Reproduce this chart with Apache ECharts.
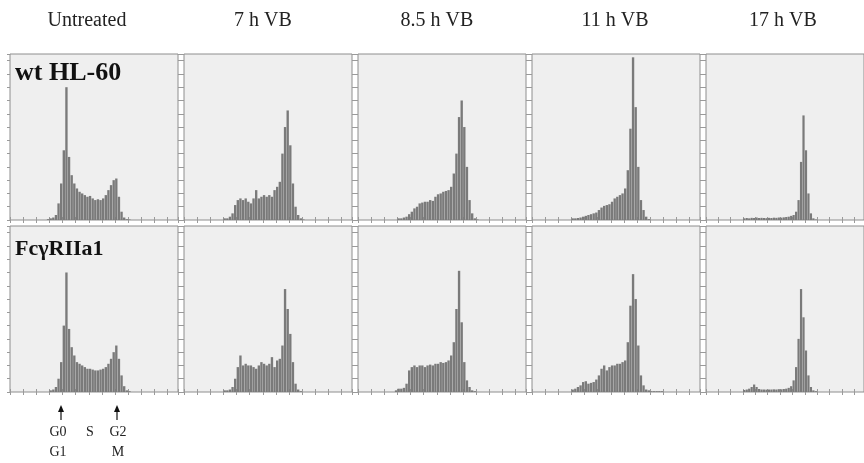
<!DOCTYPE html>
<html><head><meta charset="utf-8">
<script src="https://cdn.jsdelivr.net/npm/echarts@6/dist/echarts.min.js"></script>
<style>html,body{margin:0;padding:0;background:#fff}#c{width:864px;height:463px}</style>
</head><body><div id="c"></div>
<script>
// ---- data (DNA content histograms, % of panel height, starting at channel bin 14 of 64) ----
const columnTitles = ['Untreated', '7 h VB', '8.5 h VB', '11 h VB', '17 h VB'];
const rowLabels = ['wt HL-60', 'FcγRIIa1'];
const binCount = 64;
const firstBin = 14;

const wtUntreated = [0.5,1,1.5,3,10,22,42,80,38,27,22,19,17,16,15,14,14.5,13,12,12.5,12,13,15,18,21,24,25,14,5,1.5,0.5,0.3];
const wt7h        = [0,1,1,2,4,9,12,13,12,13,11,10,13,18,13,14,15,14,15,14,18,20,23,40,56,66,45,22,8,3,1,0.3];
const wt8_5h      = [0,1,1,1.5,2,3.5,5,7,8,10,10.5,11,11,12,11.5,14,15.5,16,17,17.5,18,20,28,40,62,72,56,32,12,4,1,0.3];
const wt11h       = [0,1,1,1.2,1.5,2,2.5,3,3.5,4,4.5,6,7.5,8.5,9,9.5,11,13,14,15,16,19,30,55,98,68,32,12,6,2,0.5];
const wt17h       = [0,1,1.2,1,1.3,1.2,1.5,1.2,1.3,1.2,1.1,1.3,1.2,1.4,1.3,1.5,1.4,1.6,1.8,2,2.5,3,5,12,35,63,42,16,4,1,0.3];

const fcUntreated = [0,1,1.5,3,8,18,40,72,38,27,22,18,17,16,15,14,14,13.5,13,13,13.5,14,15,17,20,24,28,20,10,3.5,1,0.5];
const fc7h        = [0,1,1,1.5,3,8,15,22,16,17,16,16,15,14,16,18,17,16,17,21,15,19,20,28,62,50,35,18,5,1.5,0.5];
const fc8_5h      = [1,2,2,2.5,5,13,15,16,15,16,16,15,16,16.5,16,17,17,18,17.5,18,19,22,30,50,73,42,18,7,3,1,0.5];
const fc11h       = [0,1.5,2,3,4,6,6.5,5,5.5,6,7.5,10,14,16,13,15,16,16,17,17,18,19,30,52,71,56,28,10,4,1.5,1,0.5,0.5,0.5,0.5,0.5];
const fc17h       = [0,1.2,1.5,2,3,4.5,3,1.8,1.5,1.5,1.4,1.5,1.5,1.6,1.5,1.7,1.6,1.8,2,2.5,3.5,7,15,32,62,45,25,10,3,1,0.5];

const panels = [[wtUntreated, wt7h, wt8_5h, wt11h, wt17h], [fcUntreated, fc7h, fc8_5h, fc11h, fc17h]];
const phaseTop = ['G0', 'S', 'G2'];
const phaseBottom = ['G1', '', 'M'];

// ---- layout ----
const colLeft = [10, 184, 358, 532, 706];
const rowTop = [54, 226];
const panelW = 168, panelH = 166;
const categories = Array.from({length: binCount}, (_, i) => i);

function fullHistogram(part) {
  const arr = new Array(binCount).fill(0);
  part.forEach((v, i) => { arr[firstBin + i] = v; });
  return arr;
}

const grid = [], xAxis = [], yAxis = [], series = [];
const tickStyle = {show: true, length: 3, lineStyle: {color: '#9a9a9a', width: 1}};
for (let r = 0; r < 2; r++) {
  for (let c = 0; c < 5; c++) {
    const g = r * 5 + c;
    grid.push({left: colLeft[c], top: rowTop[r], width: panelW, height: panelH, show: true,
      backgroundColor: '#efefef', borderColor: '#8e8e8e', borderWidth: 1});
    ['bottom', 'top'].forEach(pos => xAxis.push({type: 'category', gridIndex: g, position: pos, data: categories,
      boundaryGap: true, axisLine: {show: false}, axisLabel: {show: false},
      axisTick: Object.assign({interval: 4, alignWithLabel: false}, tickStyle), splitLine: {show: false}}));
    ['left', 'right'].forEach(pos => yAxis.push({type: 'value', gridIndex: g, position: pos, min: 0, max: 100, interval: 8,
      axisLine: {show: false}, axisLabel: {show: false}, axisTick: tickStyle, splitLine: {show: false}}));
    series.push({type: 'bar', xAxisIndex: 2 * g, yAxisIndex: 2 * g, data: fullHistogram(panels[r][c]),
      barCategoryGap: '10%', itemStyle: {color: '#7a7a7a'}, silent: true, animation: false});
  }
}

const serif = '"Liberation Serif", "DejaVu Serif", serif';
const graphic = [];
const titleX = [87, 263, 437, 615, 783];
columnTitles.forEach((t, i) => graphic.push({type: 'text', x: titleX[i], y: 21,
  style: {text: t, font: '20px ' + serif, fill: '#222', textAlign: 'center', textVerticalAlign: 'middle'}}));
graphic.push({type: 'text', x: 15, y: 73, z: 10, style: {text: rowLabels[0], font: 'bold 26px ' + serif, fill: '#111', textAlign: 'left', textVerticalAlign: 'middle'}});
graphic.push({type: 'text', x: 15, y: 249, z: 10, style: {text: rowLabels[1], font: 'bold 22px ' + serif, fill: '#111', textAlign: 'left', textVerticalAlign: 'middle'}});
// phase annotations
const arrowX = [61, 117];
arrowX.forEach(x => {
  graphic.push({type: 'line', shape: {x1: x, y1: 420, x2: x, y2: 410}, style: {stroke: '#111', lineWidth: 1.2}});
  graphic.push({type: 'polygon', shape: {points: [[x, 405], [x - 3, 412], [x + 3, 412]]}, style: {fill: '#111'}});
});
const phaseX = [58, 90, 118];
phaseTop.forEach((t, i) => graphic.push({type: 'text', x: phaseX[i], y: 432, style: {text: t, font: '14px ' + serif, fill: '#222', textAlign: 'center', textVerticalAlign: 'middle'}}));
phaseBottom.forEach((t, i) => { if (t) graphic.push({type: 'text', x: phaseX[i], y: 452, style: {text: t, font: '14px ' + serif, fill: '#222', textAlign: 'center', textVerticalAlign: 'middle'}}); });

const chart = echarts.init(document.getElementById('c'), null, {renderer: 'canvas'});
chart.setOption({backgroundColor: '#fff', animation: false, grid, xAxis, yAxis, series, graphic});
</script></body></html>
